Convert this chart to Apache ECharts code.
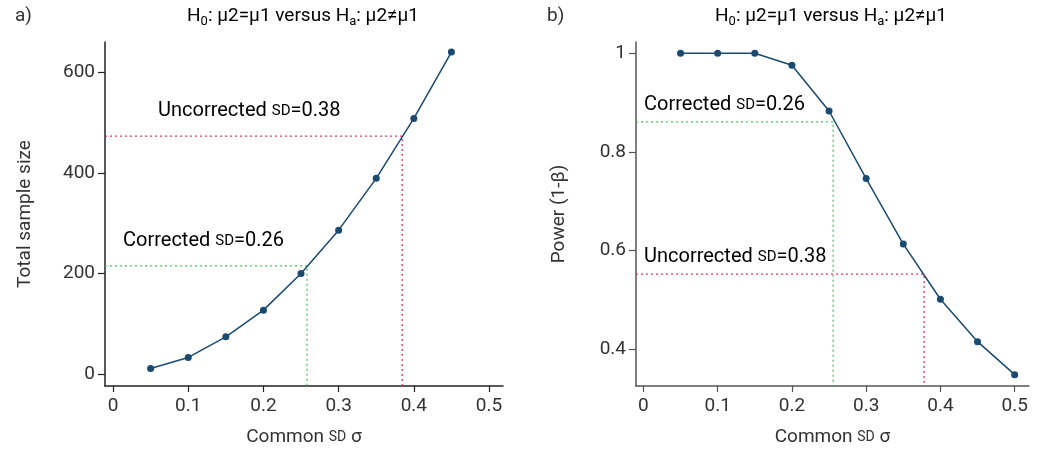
<!DOCTYPE html>
<html><head><meta charset="utf-8">
<script src="https://cdn.jsdelivr.net/npm/echarts@6/dist/echarts.min.js"></script>
<style>html,body{margin:0;padding:0;background:#fff}#c{width:1049px;height:449px}</style>
</head><body><div id="c"></div>
<script>
// ---- data ----
const sigma = [0.05, 0.10, 0.15, 0.20, 0.25, 0.30, 0.35, 0.40, 0.45];
const sampleSize = [11, 33, 74, 127, 200, 286, 389, 508, 640];
const sigmaB = [0.05, 0.10, 0.15, 0.20, 0.25, 0.30, 0.35, 0.40, 0.45, 0.50];
const power = [1.0, 1.0, 1.0, 0.976, 0.883, 0.746, 0.613, 0.501, 0.415, 0.348];
const xTicks = [0, 0.1, 0.2, 0.3, 0.4, 0.5];
const yTicksA = [0, 200, 400, 600];
const yTicksB = [0.4, 0.6, 0.8, 1];
// reference lines: [sd, value]
const refA_uncorr = [0.3845, 473];
const refA_corr = [0.258, 215];
const refB_corr = [0.2555, 0.861];
const refB_uncorr = [0.378, 0.552];

const FONT = 'Roboto';
const TXT = '#333';
const LINE = '#1a4a70';
const RED = '#e0365c';
const GREEN = '#52c45c';

const chart = echarts.init(document.getElementById('c'));
const xMinA = -0.0107, xMaxA = 0.5186, yMinA = -23.8, yMaxA = 660;
const xMinB = -0.01, xMaxB = 0.5193, yMinB = 0.325, yMaxB = 1.023;

function fmt(v){ return String(+v.toFixed(2)); }
function xAxis(grid, min, max, axCol){
  return {type:'value', gridIndex:grid, min:min, max:max,
    name:'{n|Common }{s|SD}{n| σ}', nameLocation:'middle', nameGap:42,
    nameTextStyle:{rich:{n:{fontFamily:FONT,fontSize:19,color:TXT},s:{fontFamily:FONT,fontSize:14,color:TXT}}},
    axisLine:{show:true,onZero:false,lineStyle:{color:axCol,width:1.5}},
    axisTick:{show:true,length:6,customValues:xTicks,lineStyle:{color:axCol,width:1.2}},
    axisLabel:{customValues:xTicks,formatter:fmt,fontFamily:FONT,fontSize:19,color:TXT,margin:11},
    splitLine:{show:false}};
}
function yAxis(grid, min, max, ticks, name, gap, axCol){
  return {type:'value', gridIndex:grid, min:min, max:max, name:name, nameLocation:'middle', nameGap:gap,
    nameTextStyle:{fontFamily:FONT,fontSize:19,color:TXT},
    axisLine:{show:true,onZero:false,lineStyle:{color:axCol,width:1.5}},
    axisTick:{show:true,length:7,customValues:ticks,lineStyle:{color:axCol,width:1.2}},
    axisLabel:{customValues:ticks,formatter:fmt,fontFamily:FONT,fontSize:19,color:TXT,margin:10},
    splitLine:{show:false}};
}
function refSeries(xi, yi, ref, xmin, ymin, color){
  return {type:'line', xAxisIndex:xi, yAxisIndex:yi, symbol:'none', silent:true, z:1,
    data:[[xmin, ref[1]],[ref[0], ref[1]],[ref[0], ymin]],
    lineStyle:{color:color,width:1.3,type:[2,3]}};
}
const titleRich = {n:{fontFamily:FONT,fontSize:19,color:TXT},s:{fontFamily:FONT,fontSize:13,color:TXT,padding:[10,0,0,0]}};
const titleText = '{n|H}{s|0}{n|: μ2=μ1 versus H}{s|a}{n|: μ2≠μ1}';
const labRich = {n:{fontFamily:FONT,fontSize:20,color:TXT},s:{fontFamily:FONT,fontSize:15,color:TXT}};
function label(x, y, txt){
  return {type:'text', left:x, top:y, style:{text:txt, rich:labRich}};
}

chart.setOption({
  animation:false,
  grid:[{left:105, top:42, width:398, height:344, outerBoundsMode:'none', containLabel:false},
        {left:636, top:42, width:393, height:344, outerBoundsMode:'none', containLabel:false}],
  xAxis:[xAxis(0,xMinA,xMaxA,'#222'), xAxis(1,xMinB,xMaxB,'#555')],
  yAxis:[yAxis(0,yMinA,yMaxA,yTicksA,'Total sample size',70,'#222'), yAxis(1,yMinB,yMaxB,yTicksB,'Power (1-β)',67,'#555')],
  graphic:[
    {type:'text', left:15, top:7, style:{text:'a)', fontFamily:FONT, fontSize:19, fill:TXT}},
    {type:'text', left:547, top:7, style:{text:'b)', fontFamily:FONT, fontSize:19, fill:TXT}},
    {type:'text', x:303, y:5, style:{text:titleText, rich:titleRich, align:'center'}},
    {type:'text', x:831, y:5, style:{text:titleText, rich:titleRich, align:'center'}},
    label(158, 101, '{n|Uncorrected }{s|SD}{n|=0.38}'),
    label(123, 231, '{n|Corrected }{s|SD}{n|=0.26}'),
    label(644, 95, '{n|Corrected }{s|SD}{n|=0.26}'),
    label(644, 247, '{n|Uncorrected }{s|SD}{n|=0.38}')
  ],
  series:[
    refSeries(0,0,refA_uncorr,xMinA,yMinA,RED),
    refSeries(0,0,refA_corr,xMinA,yMinA,GREEN),
    refSeries(1,1,refB_corr,xMinB,yMinB,GREEN),
    refSeries(1,1,refB_uncorr,xMinB,yMinB,RED),
    {type:'line', xAxisIndex:0, yAxisIndex:0, data:sigma.map((s,i)=>[s,sampleSize[i]]),
      symbol:'circle', symbolSize:7, z:3, lineStyle:{color:LINE,width:1.5}, itemStyle:{color:LINE}},
    {type:'line', xAxisIndex:1, yAxisIndex:1, data:sigmaB.map((s,i)=>[s,power[i]]),
      symbol:'circle', symbolSize:7, z:3, lineStyle:{color:LINE,width:1.5}, itemStyle:{color:LINE}}
  ]
});
</script></body></html>
